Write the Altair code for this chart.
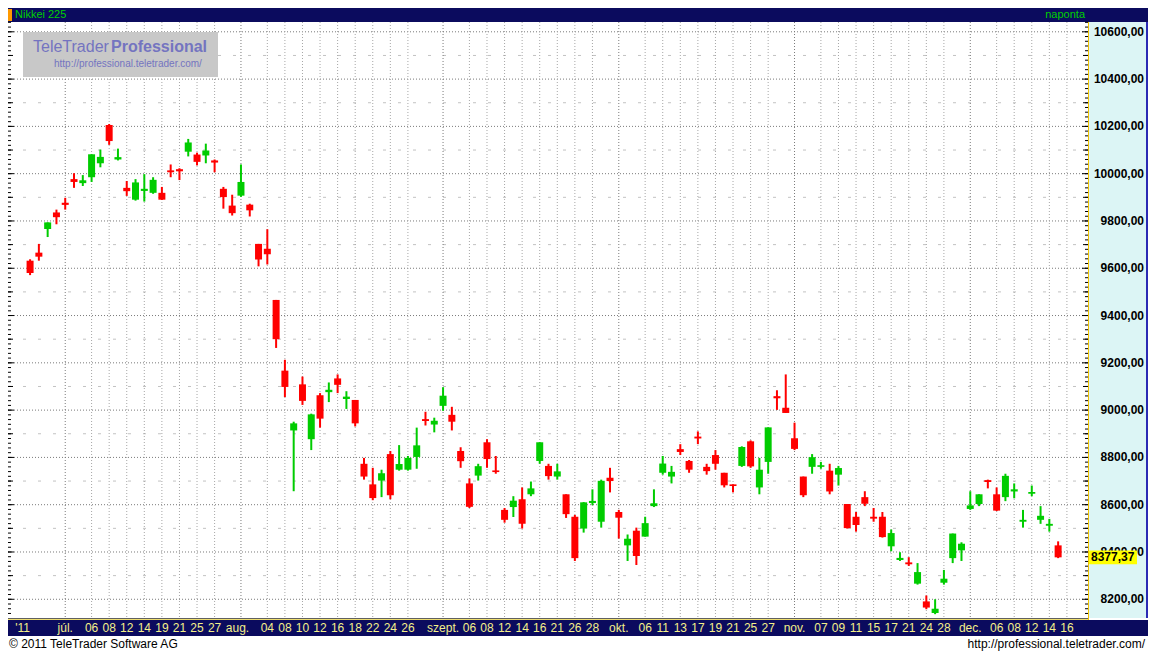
import altair as alt
import pandas as pd

# ---------------- data ----------------
day_index = list(range(118))
opens = [9632, 9666, 9766, 9836, 9877, 9977, 9960, 9985, 10044, 10206,
         10060, 9940, 9890, 9927, 9919, 9919, 10014, 10019, 10093, 10081,
         10077, 10056, 9936, 9865, 9907, 9869, 9703, 9682, 9466, 9167,
         8914, 9109, 8877, 9063, 9076, 9134, 9047, 9043, 8773, 8686,
         8702, 8814, 8748, 8748, 8802, 8962, 8939, 9018, 8980, 8827,
         8690, 8723, 8864, 8745, 8578, 8590, 8623, 8644, 8785, 8764,
         8719, 8644, 8549, 8499, 8607, 8528, 8714, 8569, 8428, 8490,
         8465, 8594, 8735, 8719, 8835, 8785, 8888, 8760, 8810, 8735,
         8686, 8764, 8868, 8673, 8781, 9059, 9010, 8881, 8719, 8760,
         8760, 8744, 8727, 8603, 8549, 8632, 8549, 8549, 8424, 8366,
         8356, 8266, 8191, 8142, 8270, 8374, 8407, 8582, 8603, 8704,
         8644, 8632, 8656, 8528, 8646, 8536, 8511, 8428]
highs = [9638, 9703, 9794, 9848, 9898, 10002, 9994, 10082, 10102, 10210,
         10106, 9969, 9977, 9998, 9985, 9944, 10039, 10023, 10147, 10089,
         10127, 10060, 9944, 9911, 10039, 9873, 9703, 9765, 9466, 9213,
         8951, 9142, 8985, 9072, 9117, 9151, 9080, 9043, 8798, 8756,
         8748, 8827, 8852, 8806, 8926, 8993, 8968, 9097, 9014, 8843,
         8711, 8773, 8877, 8806, 8586, 8636, 8673, 8698, 8864, 8773,
         8773, 8644, 8557, 8611, 8665, 8706, 8756, 8578, 8474, 8503,
         8549, 8665, 8806, 8764, 8856, 8789, 8910, 8773, 8831, 8735,
         8686, 8847, 8872, 8798, 8927, 9084, 9151, 8947, 8719, 8814,
         8781, 8773, 8764, 8603, 8569, 8657, 8586, 8569, 8495, 8399,
         8378, 8353, 8216, 8200, 8324, 8478, 8441, 8657, 8644, 8706,
         8673, 8731, 8690, 8578, 8681, 8594, 8540, 8445]
lows = [9571, 9632, 9732, 9786, 9848, 9940, 9948, 9965, 10027, 10122,
        10056, 9906, 9886, 9882, 9915, 9889, 9985, 9973, 10073, 10035,
        10044, 10006, 9852, 9823, 9902, 9819, 9608, 9616, 9263, 9055,
        8657, 9022, 8831, 8926, 9034, 9072, 9005, 8931, 8706, 8619,
        8632, 8623, 8744, 8744, 8752, 8935, 8906, 8997, 8914, 8756,
        8586, 8702, 8756, 8731, 8524, 8548, 8499, 8636, 8773, 8706,
        8706, 8544, 8362, 8482, 8598, 8503, 8652, 8457, 8362, 8345,
        8465, 8590, 8727, 8690, 8810, 8735, 8856, 8727, 8748, 8673,
        8652, 8760, 8756, 8644, 8731, 9001, 8988, 8831, 8632, 8731,
        8752, 8644, 8681, 8499, 8486, 8594, 8528, 8461, 8403, 8362,
        8341, 8262, 8158, 8137, 8262, 8353, 8362, 8578, 8594, 8669,
        8573, 8615, 8627, 8503, 8636, 8519, 8486, 8374]
closes = [9580, 9649, 9794, 9816, 9868, 9965, 9972, 10082, 10071, 10138,
          10070, 9926, 9963, 9936, 9974, 9890, 10006, 10010, 10132, 10050,
          10098, 10047, 9901, 9833, 9965, 9845, 9637, 9659, 9300, 9098,
          8944, 9039, 8982, 8964, 9086, 9107, 9057, 8944, 8719, 8628,
          8733, 8640, 8772, 8798, 8851, 8954, 8955, 9061, 8951, 8784,
          8591, 8763, 8793, 8738, 8536, 8617, 8519, 8669, 8864, 8721,
          8741, 8560, 8374, 8610, 8616, 8701, 8700, 8545, 8456, 8383,
          8522, 8606, 8774, 8739, 8823, 8748, 8880, 8742, 8773, 8682,
          8679, 8844, 8762, 8748, 8927, 9050, 8988, 8836, 8640, 8801,
          8767, 8656, 8755, 8501, 8514, 8604, 8541, 8463, 8480, 8375,
          8348, 8315, 8165, 8160, 8287, 8478, 8435, 8597, 8644, 8696,
          8575, 8722, 8665, 8536, 8654, 8553, 8519, 8377.37]

x_label_pos = [-0.85, 4, 7, 9, 11, 13, 15, 17, 19, 21, 23.6, 27, 29, 31, 33, 35, 37, 39, 41, 43,
               47, 50, 52, 54, 56, 58, 60, 62, 64, 67, 70, 72, 74, 76, 78, 80, 82, 84,
               87, 90, 92, 94, 96, 98, 100, 102, 104, 107, 110, 112, 114, 116, 118]
x_label_text = ["'11", "júl.", "06", "08", "12", "14", "19", "21", "25", "27", "aug.", "04", "08",
                "10", "12", "16", "18", "22", "24", "26", "szept.", "06", "08", "12", "14", "16",
                "21", "26", "28", "okt.", "06", "11", "13", "17", "19", "21", "25", "27", "nov.",
                "07", "09", "11", "15", "17", "21", "24", "28", "dec.", "06", "08", "12", "14", "16"]
month_grid = [4, 24, 47, 67, 87, 107]
day_grid = [7, 9, 11, 13, 15, 17, 19, 21, 27, 29, 31, 33, 35, 37, 39, 41, 43, 50, 52, 54, 56, 58,
            60, 62, 64, 70, 72, 74, 76, 78, 80, 82, 84, 90, 92, 94, 96, 98, 100, 102, 104,
            110, 112, 114, 116, 118]
y_label_vals = [8200, 8400, 8600, 8800, 9000, 9200, 9400, 9600, 9800, 10000, 10200, 10400, 10600]
y_label_text = ["8200,00", "8400,00", "8600,00", "8800,00", "9000,00", "9200,00", "9400,00",
                "9600,00", "9800,00", "10000,00", "10200,00", "10400,00", "10600,00"]
y_half_vals = [8300, 8500, 8700, 8900, 9100, 9300, 9500, 9700, 9900, 10100, 10300, 10500]
minor_tick_vals = list(range(8140, 10641, 20))
last_price = [8377.37]
last_price_text = ["8377,37"]

# ---------------- layout ----------------
PW, PH = 1080, 596
RIGHT, TOP, BOTTOM = 60, 14, 33
FULLW = PW + RIGHT
FONT = "Liberation Sans"
NAVY = "#0b0b5e"

xs = alt.Scale(domain=[-1.944, 119.83], nice=False, zero=False)
ys = alt.Scale(domain=[8120.8, 10641.5], nice=False, zero=False)

one = pd.DataFrame({"k": [0]})


def prect(x, x2, y, y2, color, opacity=1.0):
    return alt.Chart(one).mark_rect(color=color, opacity=opacity).encode(
        x=alt.value(x), x2=alt.value(x2), y=alt.value(y), y2=alt.value(y2))


def ptext(txt, x, y, size=12, color="black", align="left", weight="normal", font=FONT):
    return alt.Chart(one).mark_text(text=txt, align=align, baseline="middle", fontSize=size,
                                    color=color, fontWeight=weight, font=font).encode(
        x=alt.value(x), y=alt.value(y))


candles = pd.DataFrame({"i": day_index, "o": opens, "h": highs, "l": lows, "c": closes})
candles["dir"] = ["up" if c >= o else "down" for o, c in zip(opens, closes)]
col = alt.Color("dir:N", scale=alt.Scale(domain=["up", "down"], range=["#00cc00", "#ff0000"]),
                legend=None)

# backgrounds
right_panel = prect(PW, FULLW, 0, PH, "#dcf5f5")
right_edge = prect(FULLW - 2, FULLW, 0, PH, "#2a2ab4")
header = prect(0, FULLW, -TOP, 0, NAVY)
marker = prect(0, 4, -TOP + 1, -1, "#ff9900")
band = prect(0, FULLW, PH + 2, PH + 18, NAVY)
band_line1 = alt.Chart(one).mark_rule(color="#606060", strokeWidth=1).encode(
    x=alt.value(0), x2=alt.value(PW), y=alt.value(PH + 0.5))
band_line2 = alt.Chart(one).mark_rule(color="#f0e070", strokeWidth=1).encode(
    x=alt.value(0), x2=alt.value(PW), y=alt.value(PH + 1.5))
yellow_line = alt.Chart(one).mark_rule(color="#f0c000", strokeWidth=1).encode(
    x=alt.value(PW + 0.5), y=alt.value(0), y2=alt.value(PH + 2))

# grid
grid200 = alt.Chart(pd.DataFrame({"v": y_label_vals})).mark_rule(
    color="#7a7a7a", strokeDash=[1, 2], strokeWidth=1).encode(
    y=alt.Y("v:Q", scale=ys, axis=None), x=alt.value(0), x2=alt.value(PW))
grid100 = alt.Chart(pd.DataFrame({"v": y_half_vals})).mark_rule(
    color="#c2c2c2", strokeDash=[3, 12], strokeWidth=1).encode(
    y=alt.Y("v:Q", scale=ys, axis=None), x=alt.value(0), x2=alt.value(PW))
vgrid_m = alt.Chart(pd.DataFrame({"p": month_grid})).mark_rule(
    color="#7a7a7a", strokeDash=[1, 2], strokeWidth=1).encode(
    x=alt.X("p:Q", scale=xs, axis=None), y=alt.value(0), y2=alt.value(PH))
vgrid_d = alt.Chart(pd.DataFrame({"p": day_grid})).mark_rule(
    color="#a6a6a6", strokeDash=[1, 2], strokeWidth=1).encode(
    x=alt.X("p:Q", scale=xs, axis=None), y=alt.value(0), y2=alt.value(PH))


def ticks(vals, x0, x1):
    return alt.Chart(pd.DataFrame({"v": vals})).mark_rule(color="black", strokeWidth=1).encode(
        y=alt.Y("v:Q", scale=ys, axis=None), x=alt.value(x0), x2=alt.value(x1))


lt_minor = ticks(minor_tick_vals, 0, 3)
lt_half = ticks(y_half_vals, 0, 5)
lt_major = ticks(y_label_vals, 0, 6)
rt_minor = ticks(minor_tick_vals, PW - 3, PW)
rt_half = ticks(y_half_vals, PW - 5, PW)
rt_major = ticks(y_label_vals, PW - 6, PW)

# watermark
wm_box = prect(15, 210, 10, 55, "#c8c8c8")
wm_t1 = ptext("TeleTrader", 25, 25, size=16, color="#7474c0")
wm_t2 = ptext("Professional", 103, 25, size=16, color="#7474c0", weight="bold")
wm_url = ptext("http://professional.teletrader.com/", 46, 42, size=10, color="#7474c0")

# candles
wicks = alt.Chart(candles).mark_rule(strokeWidth=2).encode(
    x=alt.X("i:Q", scale=xs, axis=None), y=alt.Y("l:Q", scale=ys, axis=None), y2="h:Q", color=col)
bodies = alt.Chart(candles).mark_bar(size=7).encode(
    x=alt.X("i:Q", scale=xs, axis=None), y=alt.Y("o:Q", scale=ys, axis=None), y2="c:Q", color=col)

# texts
title_l = ptext("Nikkei 225", 7, -7, size=11, color="#00d000")
title_r = ptext("naponta", 1077, -7, size=11, color="#00d000", align="right")

ylab = alt.Chart(pd.DataFrame({"v": y_label_vals, "t": y_label_text})).mark_text(
    align="right", baseline="middle", fontSize=12, fontWeight="bold", font=FONT, color="black").encode(
    y=alt.Y("v:Q", scale=ys, axis=None), x=alt.value(FULLW - 4), text="t:N")

xlab = alt.Chart(pd.DataFrame({"p": x_label_pos, "t": x_label_text})).mark_text(
    align="center", baseline="middle", fontSize=12, font=FONT, color="#f4f08a").encode(
    x=alt.X("p:Q", scale=xs, axis=None), y=alt.value(PH + 10), text="t:N")

price_df = pd.DataFrame({"v": last_price, "t": last_price_text})
price_box = alt.Chart(price_df).mark_point(
    shape="M-1,-0.29H1V0.29H-1Z", size=2304, filled=True, color="#ffff00", opacity=1,
    strokeWidth=0).encode(
    y=alt.Y("v:Q", scale=ys, axis=None), x=alt.value(PW + 25))
price_txt = alt.Chart(price_df).mark_text(
    align="left", baseline="middle", fontSize=12, fontWeight="bold", font=FONT, color="black").encode(
    y=alt.Y("v:Q", scale=ys, axis=None), x=alt.value(PW + 3), text="t:N")

foot_l = ptext("© 2011 TeleTrader Software AG", 1, PH + 26, size=12)
foot_r = ptext("http://professional.teletrader.com/", FULLW - 3, PH + 26, size=12, align="right")

chart = alt.layer(
    right_panel, right_edge, header, marker, band, band_line1, band_line2,
    grid200, grid100, vgrid_m, vgrid_d,
    wm_box, wm_t1, wm_t2, wm_url,
    lt_minor, lt_half, lt_major, rt_minor, rt_half, rt_major, yellow_line,
    wicks, bodies,
    title_l, title_r, ylab, price_box, price_txt, xlab, foot_l, foot_r,
).properties(
    width=PW, height=PH,
    padding={"left": 0, "top": TOP, "right": RIGHT, "bottom": BOTTOM},
    autosize=alt.AutoSizeParams(type="none"),
    background="white",
).configure_view(stroke=None)

chart.save("out.html", embed_options={"renderer": "svg", "actions": False})
